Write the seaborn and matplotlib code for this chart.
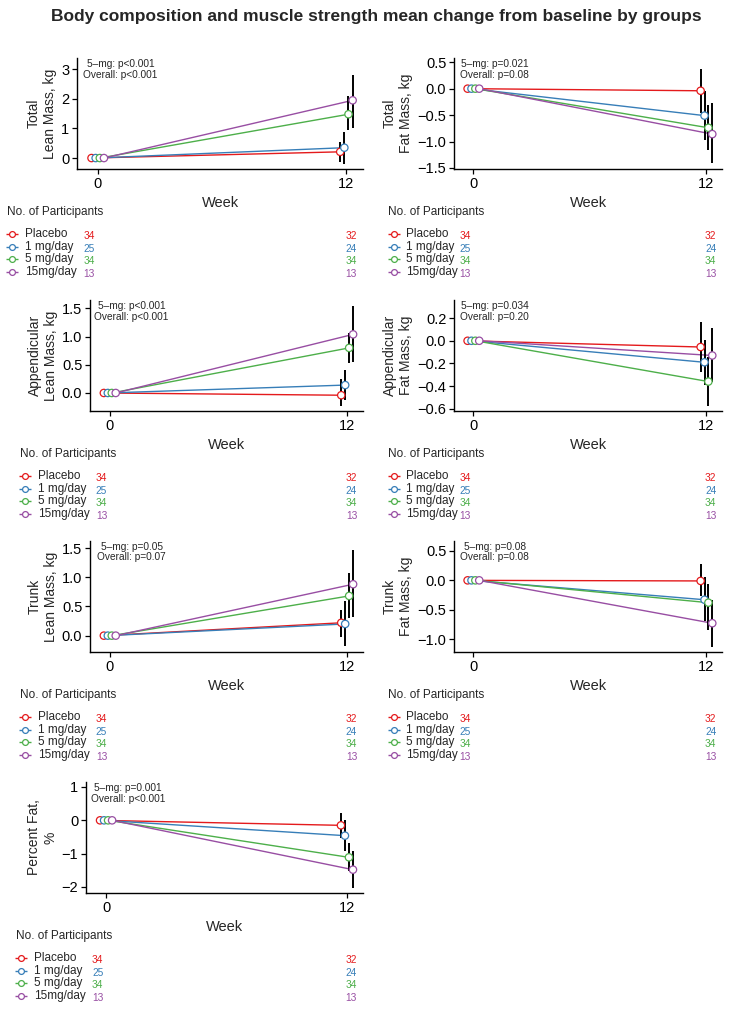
import matplotlib
matplotlib.use("Agg")
import matplotlib.pyplot as plt
import matplotlib.transforms as mtransforms
import pandas as pd
import seaborn as sns

groups = ["Placebo", "1 mg/day", "5 mg/day", "15mg/day"]
colors = ["#E41A1C", "#377EB8", "#4DAF4A", "#984EA3"]
weeks = [0, 12]
n_week0 = [34, 25, 34, 13]
n_week12 = [32, 24, 34, 13]

# mean change from baseline at week 12 (baseline = 0), with 95% CI
total_lean = [0.21, 0.35, 1.48, 1.95]
total_lean_lo = [-0.13, -0.21, 0.95, 1.01]
total_lean_hi = [0.54, 0.89, 2.08, 2.82]

total_fat = [-0.04, -0.51, -0.74, -0.86]
total_fat_lo = [-0.47, -0.98, -1.17, -1.41]
total_fat_hi = [0.38, -0.04, -0.31, -0.28]

app_lean = [-0.04, 0.14, 0.80, 1.04]
app_lean_lo = [-0.24, -0.13, 0.53, 0.55]
app_lean_hi = [0.24, 0.41, 1.07, 1.55]

app_fat = [-0.055, -0.19, -0.36, -0.13]
app_fat_lo = [-0.28, -0.39, -0.58, -0.36]
app_fat_hi = [0.17, 0.01, -0.14, 0.11]

trunk_lean = [0.22, 0.20, 0.68, 0.88]
trunk_lean_lo = [-0.02, -0.18, 0.30, 0.32]
trunk_lean_hi = [0.44, 0.59, 1.07, 1.46]

trunk_fat = [-0.01, -0.33, -0.38, -0.73]
trunk_fat_lo = [-0.27, -0.70, -0.84, -1.13]
trunk_fat_hi = [0.27, 0.05, -0.07, -0.33]

pct_fat = [-0.15, -0.46, -1.11, -1.48]
pct_fat_lo = [-0.53, -0.91, -1.53, -2.03]
pct_fat_hi = [0.22, 0.02, -0.68, -0.93]

panels = [
    ("Total\nLean Mass, kg", "5\u2013mg: p<0.001\nOverall: p<0.001",
     total_lean, total_lean_lo, total_lean_hi, [0, 1, 2, 3], (-0.37, 3.38), "{:.0f}"),
    ("Total\nFat Mass, kg", "5\u2013mg: p=0.021\nOverall: p=0.08",
     total_fat, total_fat_lo, total_fat_hi, [-1.5, -1.0, -0.5, 0.0, 0.5], (-1.52, 0.58), "{:.1f}"),
    ("Appendicular\nLean Mass, kg", "5\u2013mg: p<0.001\nOverall: p<0.001",
     app_lean, app_lean_lo, app_lean_hi, [0.0, 0.5, 1.0, 1.5], (-0.32, 1.65), "{:.1f}"),
    ("Appendicular\nFat Mass, kg", "5\u2013mg: p=0.034\nOverall: p=0.20",
     app_fat, app_fat_lo, app_fat_hi, [-0.6, -0.4, -0.2, 0.0, 0.2], (-0.62, 0.36), "{:.1f}"),
    ("Trunk\nLean Mass, kg", "5\u2013mg: p=0.05\nOverall: p=0.07",
     trunk_lean, trunk_lean_lo, trunk_lean_hi, [0.0, 0.5, 1.0, 1.5], (-0.28, 1.62), "{:.1f}"),
    ("Trunk\nFat Mass, kg", "5\u2013mg: p=0.08\nOverall: p=0.08",
     trunk_fat, trunk_fat_lo, trunk_fat_hi, [-1.0, -0.5, 0.0, 0.5], (-1.22, 0.67), "{:.1f}"),
    ("Percent Fat,\n%", "5\u2013mg: p=0.001\nOverall: p<0.001",
     pct_fat, pct_fat_lo, pct_fat_hi, [-2, -1, 0, 1], (-2.18, 1.15), "{:.0f}"),
]

# layout in pixels: left spine, top, bottom, right
W, H = 729, 1009
boxes = [
    (77, 58, 169, 363), (454, 58, 169, 722),
    (90, 300, 411, 363), (454, 300, 411, 722),
    (90, 541, 652, 363), (454, 541, 652, 722),
    (86, 782, 893, 363),
]
dodge = dict(zip(groups, [-0.3, -0.1, 0.1, 0.3]))

sns.set_style("ticks")
plt.rcParams["font.family"] = ["Liberation Sans", "DejaVu Sans"]
plt.rcParams["axes.edgecolor"] = "black"
plt.rcParams["xtick.color"] = "black"
plt.rcParams["ytick.color"] = "black"

fig = plt.figure(figsize=(W / 100, H / 100), dpi=100)
fig.text(376 / W, 1 - 16 / H,
         "Body composition and muscle strength mean change from baseline by groups",
         ha="center", va="center", fontsize=12.5, fontweight="bold")

for k, (ylabel, ptext, mean, lo, hi, yticks, ylim, fmt) in enumerate(panels):
    L, T, B, R = boxes[k]
    right_col = L > 400
    ax = fig.add_axes([L / W, 1 - B / H, (R - L) / W, (B - T) / H])

    rows = []
    for g, m in zip(groups, mean):
        rows.append({"group": g, "week": weeks[0], "change": 0.0})
        rows.append({"group": g, "week": weeks[1], "change": m})
    df = pd.DataFrame(rows)
    df["x"] = df["week"] + df["group"].map(dodge)

    sns.lineplot(data=df, x="x", y="change", hue="group", hue_order=groups,
                 palette=colors, errorbar=None, lw=1.0, legend=False, ax=ax, zorder=2)
    end = pd.DataFrame({"x": [weeks[1] + dodge[g] for g in groups], "lo": lo, "hi": hi})
    ax.vlines(end["x"], end["lo"], end["hi"], color="black", lw=1.4, zorder=3)
    sns.scatterplot(data=df, x="x", y="change", hue="group", hue_order=groups,
                    palette=colors, s=28, linewidth=0.9, legend=False, ax=ax, zorder=4)
    pts = ax.collections[-1]
    pts.set_edgecolors(pts.get_facecolors())
    pts.set_facecolors("white")

    ax.set_xlim(-1, 12.8)
    ax.set_ylim(*ylim)
    ax.set_xticks(weeks)
    ax.set_yticks(yticks)
    ax.set_yticklabels([fmt.format(v).replace("-", "\u2212") for v in yticks])
    ax.tick_params(labelsize=10.5, length=3.5, width=0.9, pad=2)
    ax.set_xlabel("Week", fontsize=10.5, labelpad=4)
    ax.set_ylabel(ylabel, fontsize=10, labelpad=3)
    sns.despine(ax=ax)
    for s in ("left", "bottom"):
        ax.spines[s].set_linewidth(1.0)
    ax.text(1.1, 0.9, ptext, transform=mtransforms.blended_transform_factory(ax.transData, ax.transAxes),
            ha="center", va="center", fontsize=7.3, linespacing=1.1)

    # number at risk table
    tax = fig.add_axes([L / W, 1 - (B + 109.3) / H, (R - L) / W, 50.7 / H])
    tax.axis("off")
    tax.set_xlim(-0.55, 12.55)
    tax.set_ylim(-0.5, 3.5)
    off_key, off_lab, off_head = (60, 48, 66) if right_col else (65, 52, 70)
    base = mtransforms.blended_transform_factory(tax.transAxes, tax.transData)
    tr_key = mtransforms.offset_copy(base, fig=fig, x=-off_key, units="dots")
    tr_lab = mtransforms.offset_copy(base, fig=fig, x=-off_lab, units="dots")
    tr_head = mtransforms.offset_copy(base, fig=fig, x=-off_head, units="dots")
    tax.text(0, 4.74, "No. of Participants", transform=tr_head, ha="left", va="center", fontsize=8.5)
    for i, (g, c) in enumerate(zip(groups, colors)):
        row = 3 - i
        tax.plot([0], [row], marker="_", ms=8, mew=1, color=c, transform=tr_key, clip_on=False)
        tax.plot([0], [row], marker="o", ms=4.2, mfc="white", mec=c, mew=0.9,
                 transform=tr_key, clip_on=False)
        tax.text(0, row, g, transform=tr_lab, ha="left", va="center", fontsize=8.5)
        tax.text(weeks[0], row - 0.15, str(n_week0[i]), color=c, ha="center", va="center", fontsize=7.3)
        tax.text(weeks[1], row - 0.15, str(n_week12[i]), color=c, ha="center", va="center", fontsize=7.3)

fig.savefig("out.png", dpi=100)
